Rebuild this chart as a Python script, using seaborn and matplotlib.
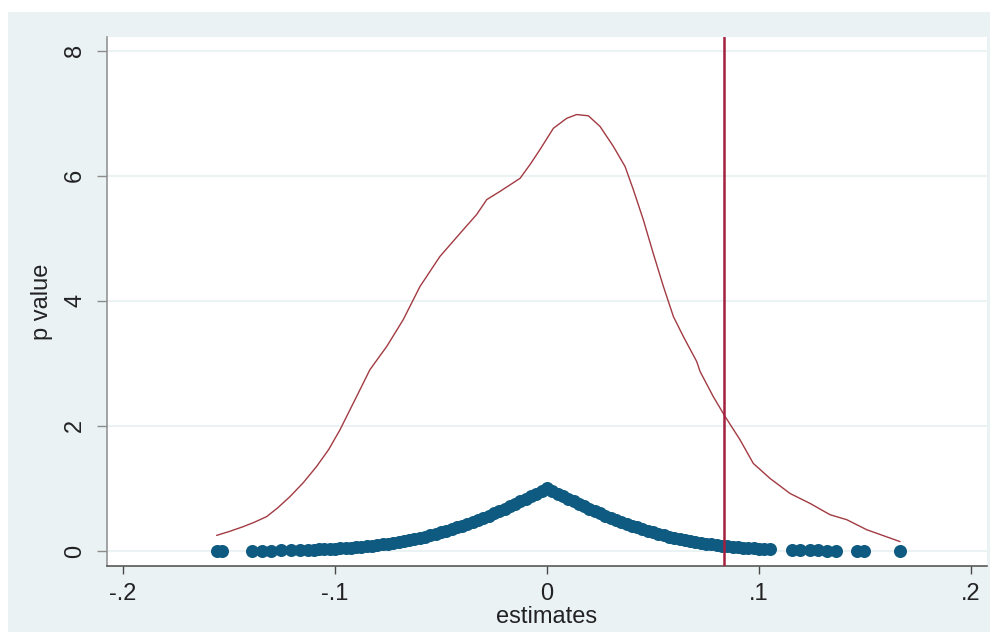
import matplotlib
matplotlib.use("Agg")
from matplotlib import pyplot as plt
from matplotlib.patches import Rectangle
import pandas as pd
import seaborn as sns

# densidad de las estimaciones
dens_x = [-0.1558, -0.1500, -0.1432, -0.1380, -0.1322, -0.1270, -0.1212, -0.1150,
          -0.1087, -0.1030, -0.0976, -0.0898, -0.0835,
          -0.0756, -0.0678, -0.0599, -0.0505, -0.0410, -0.0332, -0.0284, -0.0222,
          -0.0127, -0.0080, -0.0033, 0.0030, 0.0093, 0.0140, 0.0195, 0.0250,
          0.0313, 0.0368, 0.0407, 0.0454, 0.0501, 0.0549, 0.0596, 0.0643,
          0.0706, 0.0722, 0.0784, 0.0840, 0.0910, 0.0973, 0.1052, 0.1146,
          0.1241, 0.1335, 0.1414, 0.1508, 0.1665]
dens_y = [0.25, 0.31, 0.39, 0.46, 0.55, 0.69, 0.87, 1.09,
          1.35, 1.62, 1.94, 2.47, 2.90,
          3.27, 3.70, 4.23, 4.71, 5.08, 5.38, 5.62, 5.75,
          5.96, 6.18, 6.42, 6.76, 6.92, 6.98, 6.96, 6.79,
          6.47, 6.15, 5.78, 5.30, 4.76, 4.23, 3.75, 3.43,
          3.03, 2.87, 2.47, 2.15, 1.78, 1.40, 1.16, 0.92,
          0.76, 0.58, 0.50, 0.34, 0.15]

# estimaciones y p-valores (puntos)
est = [-0.1555, -0.1535, -0.1390, -0.1345, -0.1300, -0.1255, -0.1205, -0.1165,
       -0.1125, -0.1100, -0.1075, -0.1050, -0.1025, -0.1000, -0.0975, -0.0950,
       -0.0925, -0.0900, -0.0875, -0.0850, -0.0825, -0.0800, -0.0775, -0.0750,
       -0.0725, -0.0700, -0.0675, -0.0650, -0.0625, -0.0600, -0.0575, -0.0550,
       -0.0525, -0.0500, -0.0475, -0.0450, -0.0425, -0.0400, -0.0375, -0.0350,
       -0.0325, -0.0300, -0.0275, -0.0250, -0.0225, -0.0200, -0.0175, -0.0150,
       -0.0125, -0.0100, -0.0075, -0.0050, -0.0025,
       0.0000, 0.0025, 0.0050, 0.0075, 0.0100, 0.0125, 0.0150, 0.0175,
       0.0200, 0.0225, 0.0250, 0.0275, 0.0300, 0.0325, 0.0350, 0.0375,
       0.0400, 0.0425, 0.0450, 0.0475, 0.0500, 0.0525, 0.0550, 0.0575,
       0.0600, 0.0625, 0.0650, 0.0675, 0.0700, 0.0725, 0.0750, 0.0775,
       0.0800, 0.0825, 0.0850, 0.0875, 0.0900, 0.0925, 0.0950, 0.0975,
       0.1000, 0.1025, 0.1050,
       0.1155, 0.1195, 0.1240, 0.1280, 0.1320, 0.1365, 0.1460, 0.1495, 0.1665]
pval = [0.0012, 0.0014, 0.004, 0.005, 0.007, 0.009, 0.012, 0.015,
        0.019, 0.022, 0.025, 0.029, 0.033, 0.037, 0.042, 0.048,
        0.054, 0.061, 0.068, 0.077, 0.086, 0.096, 0.106, 0.118,
        0.131, 0.145, 0.160, 0.176, 0.193, 0.211, 0.231, 0.252,
        0.274, 0.297, 0.322, 0.349, 0.376, 0.405, 0.435, 0.466,
        0.498, 0.532, 0.567, 0.602, 0.639, 0.677, 0.715, 0.755,
        0.795, 0.835, 0.876, 0.917, 0.958,
        1.000, 0.958, 0.917, 0.876, 0.835, 0.795, 0.755, 0.715,
        0.677, 0.639, 0.602, 0.567, 0.532, 0.498, 0.466, 0.435,
        0.405, 0.376, 0.349, 0.322, 0.297, 0.274, 0.252, 0.231,
        0.211, 0.193, 0.176, 0.160, 0.145, 0.131, 0.118, 0.106,
        0.096, 0.086, 0.077, 0.068, 0.061, 0.054, 0.048, 0.042,
        0.037, 0.033, 0.029,
        0.016, 0.013, 0.010, 0.008, 0.006, 0.0045, 0.0024, 0.0019, 0.0005]

vline_x = 0.0835

x_ticks = [-0.2, -0.1, 0.0, 0.1, 0.2]
x_labels = ["-.2", "-.1", "0", ".1", ".2"]
y_ticks = [0, 2, 4, 6, 8]
y_labels = ["0", "2", "4", "6", "8"]

sns.set_style("white")
plt.rcParams['font.family'] = ['Liberation Sans', 'DejaVu Sans']

BG = "#eaf2f3"
fig = plt.figure(figsize=(9.98, 6.32), dpi=100)
fig.patch.set_facecolor("white")
# fondo azulado del grafico (estilo Stata)
bg_rect = Rectangle((8 / 998, 0), 982 / 998, 620 / 632,
                    transform=fig.transFigure, facecolor=BG,
                    edgecolor="none", zorder=-10)
fig.patches.append(bg_rect)
ax = fig.add_axes([107 / 998, 1 - 566 / 632, 880 / 998, 529 / 632])
ax.set_zorder(1)
ax.set_facecolor("white")

df_dens = pd.DataFrame({"x": dens_x, "y": dens_y})
df_pts = pd.DataFrame({"estimates": est, "p value": pval})

for yt in y_ticks:
    ax.axhline(yt, color=BG, lw=1.5, zorder=1)

sns.lineplot(data=df_dens, x="x", y="y", ax=ax, color="#a23a42", lw=1.0,
             estimator=None, sort=False, zorder=3)
sns.scatterplot(data=df_pts, x="estimates", y="p value", ax=ax,
                color="#0f5a80", s=88, linewidth=0, zorder=4)
ax.axvline(vline_x, color="#a3203f", lw=1.8, zorder=5)

ax.set_xlim(-0.2075, 0.2075)
ax.set_ylim(-0.24, 8.22)
ax.set_xticks(x_ticks)
ax.set_xticklabels(x_labels)
ax.set_yticks(y_ticks)
ax.set_yticklabels(y_labels, rotation=90, va="center")

for s in ["top", "right"]:
    ax.spines[s].set_visible(False)
ax.spines["left"].set_color("#8c8c8c")
ax.spines["left"].set_linewidth(1.1)
ax.spines["bottom"].set_color("#4a4a4a")
ax.spines["bottom"].set_linewidth(1.1)

ax.tick_params(axis="x", length=6, width=1.0, color="#4a4a4a", pad=6,
               labelsize=17, labelcolor="#222222", bottom=True)
ax.tick_params(axis="y", length=7, width=1.0, color="#8c8c8c", pad=8,
               labelsize=17, labelcolor="#222222", left=True)

ax.set_xlabel("estimates", fontsize=17, color="#222222", labelpad=1)
ax.set_ylabel("p value", fontsize=17, color="#222222", labelpad=8)

fig.savefig("out.png", dpi=100, facecolor=fig.get_facecolor())
